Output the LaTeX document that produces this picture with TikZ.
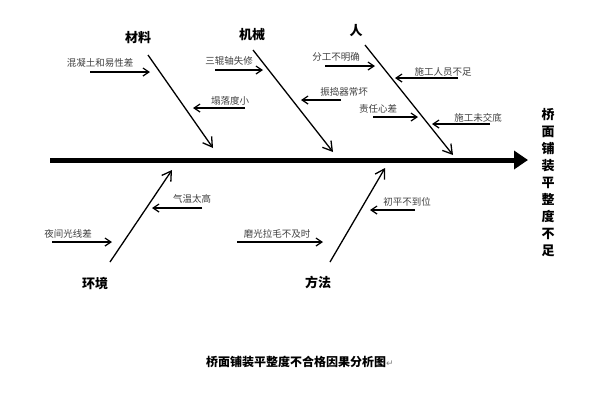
\documentclass[tikz,border=0pt]{standalone}
\usepackage{fontspec}
\setmainfont{Noto Sans CJK SC}
\newfontfamily\symfont{DejaVu Sans}
\usetikzlibrary{arrows.meta}
\begin{document}
\begin{tikzpicture}[x=1pt,y=-1pt,
 bone/.style={line width=1.3pt,-{Straight Barb[length=9pt,width=11pt]}},
 twig/.style={line width=1.2pt,-{Straight Barb[length=6pt,width=8pt]}},
 lab/.style={font=\fontsize{9.5}{10}\selectfont,text=black!75,inner sep=1pt},
 cat/.style={font=\fontsize{13}{14}\selectfont\bfseries,inner sep=1pt}]
\useasboundingbox (0,0) rectangle (600,400);
\coordinate (s0) at (50,160); \coordinate (s1) at (528,160);
\draw[line width=5pt,-{Triangle[length=14pt,width=18pt]}] (s0) -- (s1);
\node[font=\fontsize{13}{17}\selectfont\bfseries,align=center] (eff) at (548,183) {桥\\面\\铺\\装\\平\\整\\度\\不\\足};
% categories
\node[cat] (cm) at (138,38) {材料}; \coordinate (m0) at (148,55); \coordinate (m1) at (213,148);
\draw[bone] (m0) -- (m1);
\node[cat] (cj) at (252,35) {机械}; \coordinate (j0) at (253,50); \coordinate (j1) at (333,152);
\draw[bone] (j0) -- (j1);
\node[cat] (cr) at (356,31) {人}; \coordinate (r0) at (365,45); \coordinate (r1) at (453,155);
\draw[bone] (r0) -- (r1);
\node[cat] (ch) at (95,284) {环境}; \coordinate (h0) at (110,262); \coordinate (h1) at (172,170);
\draw[bone] (h0) -- (h1);
\node[cat] (cf) at (318,282) {方法}; \coordinate (f0) at (330,262); \coordinate (f1) at (385,168);
\draw[bone] (f0) -- (f1);
% causes
\node[lab] (a1) at (100,63) {混凝土和易性差}; \coordinate (a1s) at (90,72); \coordinate (a1e) at (150,72); \draw[twig] (a1s) -- (a1e);
\node[lab] (a2) at (230,101) {塌落度小}; \coordinate (a2s) at (245,108); \coordinate (a2e) at (193,108); \draw[twig] (a2s) -- (a2e);
\node[lab] (a3) at (229,61) {三辊轴失修}; \coordinate (a3s) at (215,70); \coordinate (a3e) at (263,70); \draw[twig] (a3s) -- (a3e);
\node[lab] (a4) at (344,92) {振捣器常坏}; \coordinate (a4s) at (341,100); \coordinate (a4e) at (301,100); \draw[twig] (a4s) -- (a4e);
\node[lab] (a5) at (336,57) {分工不明确}; \coordinate (a5s) at (325,66); \coordinate (a5e) at (375,66); \draw[twig] (a5s) -- (a5e);
\node[lab] (a6) at (443,72) {施工人员不足}; \coordinate (a6s) at (458,78); \coordinate (a6e) at (395,78); \draw[twig] (a6s) -- (a6e);
\node[lab] (a7) at (378,109) {责任心差}; \coordinate (a7s) at (373,117); \coordinate (a7e) at (418,117); \draw[twig] (a7s) -- (a7e);
\node[lab] (a8) at (478,118) {施工未交底}; \coordinate (a8s) at (490,124); \coordinate (a8e) at (432,124); \draw[twig] (a8s) -- (a8e);
\node[lab] (b1) at (192,199) {气温太高}; \coordinate (b1s) at (202,208); \coordinate (b1e) at (152,208); \draw[twig] (b1s) -- (b1e);
\node[lab] (b2) at (68,234) {夜间光线差}; \coordinate (b2s) at (52,242); \coordinate (b2e) at (112,242); \draw[twig] (b2s) -- (b2e);
\node[lab] (b3) at (407,202) {初平不到位}; \coordinate (b3s) at (415,210); \coordinate (b3e) at (370,210); \draw[twig] (b3s) -- (b3e);
\node[lab] (b4) at (277,234) {磨光拉毛不及时}; \coordinate (b4s) at (237,242); \coordinate (b4e) at (323,242); \draw[twig] (b4s) -- (b4e);
\node[font=\fontsize{12}{14}\selectfont\bfseries] (title) at (300,362) {桥面铺装平整度不合格因果分析图{\symfont\mdseries\fontsize{9}{10}\selectfont\color{black!50}↵}};
\end{tikzpicture}
\end{document}
